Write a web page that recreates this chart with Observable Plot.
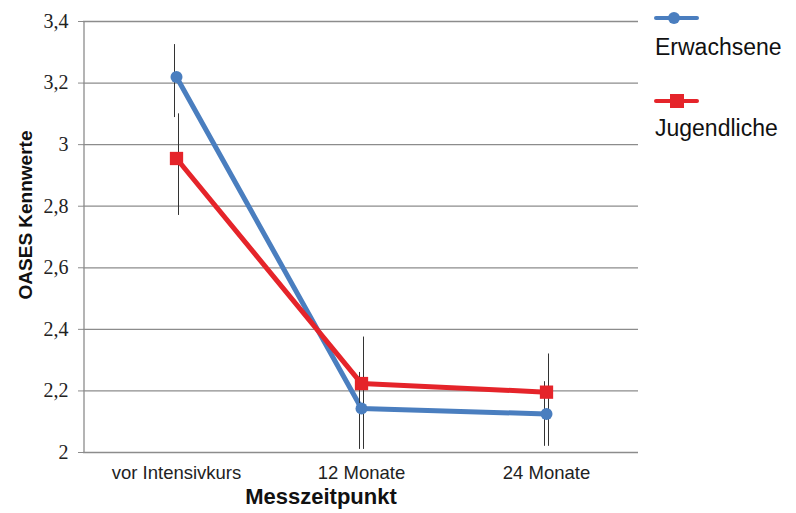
<!DOCTYPE html>
<html><head><meta charset="utf-8">
<script src="https://cdn.jsdelivr.net/npm/d3@7"></script>
<script src="https://cdn.jsdelivr.net/npm/@observablehq/plot@0.6"></script>
<style>
body{margin:0;background:#fff;font-family:"Liberation Sans",Arial,sans-serif;}
#wrap{position:relative;width:796px;height:513px;}
.leg{position:absolute;font-size:23px;line-height:26px;color:#111;}
</style></head><body>
<div id="wrap"></div>
<script>
const categories = ["vor Intensivkurs","12 Monate","24 Monate"];
const seriesNames = ["Erwachsene","Jugendliche"];
const erwachsene = [3.22, 2.143, 2.125];
const jugendliche = [2.955, 2.224, 2.196];
const erwLow = [3.088, 2.01, 2.02];
const erwHigh = [3.325, 2.26, 2.23];
const jugLow = [2.77, 2.01, 2.02];
const jugHigh = [3.10, 2.375, 2.32];
const yTicks = [2, 2.2, 2.4, 2.6, 2.8, 3, 3.2, 3.4];
const colors = ["#4a7ebf", "#e5242a"];

const data = [];
categories.forEach((c,i)=>{
  data.push({cat:c, series:seriesNames[0], v:erwachsene[i], lo:erwLow[i], hi:erwHigh[i]});
  data.push({cat:c, series:seriesNames[1], v:jugendliche[i], lo:jugLow[i], hi:jugHigh[i]});
});
const fmt = d => String(d).replace(".", ",");

const chart = Plot.plot({
  width: 796, height: 513,
  marginLeft: 83, marginRight: 158, marginTop: 21, marginBottom: 61,
  style: {fontFamily: "Liberation Sans, Arial, sans-serif", fontSize: "18px", color: "#222", background: "#fff"},
  x: {type: "point", domain: categories, padding: 0.5, label: null},
  y: {domain: [2, 3.4], label: null},
  color: {domain: seriesNames, range: colors},
  marks: [
    Plot.ruleY(yTicks, {stroke: "#8c8c8c", strokeWidth: 1.3, strokeOpacity: 1}),
    Plot.ruleX([categories[0]], {y1: 2, y2: 3.4, stroke: "#8c8c8c", strokeWidth: 1.3, dx: -92.5}),
    Plot.axisY({ticks: yTicks, tickSize: 5, stroke: "#8c8c8c", strokeOpacity: 1, text: null}),
    Plot.text(yTicks, {y: d => d, text: fmt, frameAnchor: "left", textAnchor: "end", dx: -15, fontSize: 20, fill: "#222", fontFamily: "Liberation Serif, Times New Roman, serif"}),
    Plot.axisX({tickSize: 0, tickPadding: 13, fontSize: 18.5, fill: "#222"}),
    Plot.line(data, {x: "cat", y: "v", stroke: "series", strokeWidth: 5, z: "series"}),
    Plot.ruleX(data.filter(d=>d.series==="Erwachsene"), {x: "cat", y1: "lo", y2: "hi", stroke: "#333", strokeWidth: 1, dx: -2}),
    Plot.ruleX(data.filter(d=>d.series==="Jugendliche"), {x: "cat", y1: "lo", y2: "hi", stroke: "#333", strokeWidth: 1, dx: 2}),
    Plot.dot(data.filter(d=>d.series==="Erwachsene"), {x: "cat", y: "v", fill: colors[0], r: 6, symbol: "circle"}),
    Plot.dot(data.filter(d=>d.series==="Jugendliche"), {x: "cat", y: "v", fill: colors[1], r: 7.5, symbol: "square"}),
    Plot.text(["OASES Kennwerte"], {frameAnchor: "left", textAnchor: "middle", lineAnchor: "middle", dx: -58, dy: -22, rotate: -90, fontWeight: "bold", fontSize: 19, fill: "#111"}),
    Plot.text(["Messzeitpunkt"], {frameAnchor: "bottom", lineAnchor: "middle", dx: -40, dy: 44, fontWeight: "bold", fontSize: 22, fill: "#111"})
  ]
});
const tickLabels = yTicks.map(fmt);
d3.select(chart).selectAll("text")
  .filter(function(){ return tickLabels.includes(this.textContent); })
  .style("font-family", "'Liberation Serif', 'Times New Roman', serif");
const wrap = document.getElementById("wrap");
wrap.appendChild(chart);

const legY = [18, 101];
const legTextY = [34, 115];
seriesNames.forEach((name,i)=>{
  const sw = document.createElement("div");
  sw.style.cssText = `position:absolute;left:654px;top:${legY[i]-8}px;width:46px;height:16px;`;
  const sym = i===0
    ? `<circle cx="20" cy="8" r="6" fill="${colors[0]}"/>`
    : `<rect x="16" y="1" width="14" height="14" fill="${colors[1]}"/>`;
  sw.innerHTML = `<svg width="46" height="16"><line x1="2" x2="43" y1="8" y2="8" stroke="${colors[i]}" stroke-width="4" stroke-linecap="round"/>${sym}</svg>`;
  wrap.appendChild(sw);
  const t = document.createElement("div");
  t.className = "leg";
  t.style.left = "655px";
  t.style.top = legTextY[i] + "px";
  t.textContent = name;
  wrap.appendChild(t);
});
</script>
</body></html>
